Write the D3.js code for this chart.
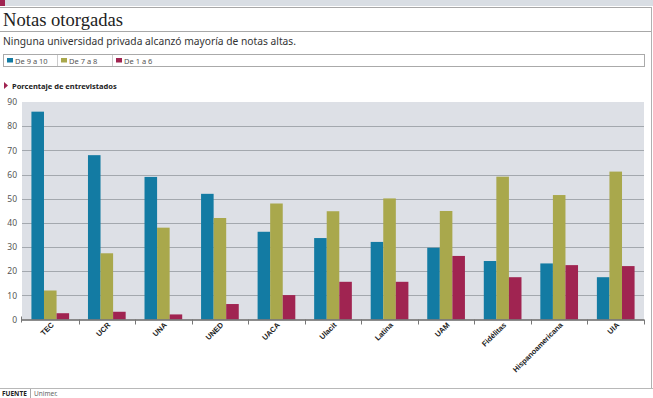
<!DOCTYPE html>
<html><head><meta charset="utf-8">
<script src="https://cdn.jsdelivr.net/npm/d3@7"></script>
<style>
body{margin:0;background:#fff;}
svg{display:block;}
</style></head>
<body>
<svg id="c" width="653" height="398"></svg>
<script>
const categories = ["TEC","UCR","UNA","UNED","UACA","Ulacit","Latina","UAM","Fidélitas","Hispanoamericana","UIA"];
const seriesNames = ["De 9 a 10","De 7 a 8","De 1 a 6"];
const serie9a10 = [86,68,59,52,36.3,33.7,32.1,29.7,24.2,23.2,17.5];
const serie7a8  = [12,27.4,38,42,48,44.8,50.1,44.9,59.1,51.5,61.2];
const serie1a6  = [2.6,3.2,2.1,6.4,10.1,15.6,15.6,26.3,17.5,22.5,22.1];
const yTicks = [0,10,20,30,40,50,60,70,80,90];
const colors = ["#137ba3","#a9a84c","#a02451"];

const svg = d3.select("#c");
const sans = "'Noto Sans','Open Sans',sans-serif";

// top strip
svg.append("rect").attr("x",0).attr("y",0).attr("width",653).attr("height",6).attr("fill","#d9dee4");
svg.append("rect").attr("x",0).attr("y",0).attr("width",5).attr("height",6).attr("fill","#a02451");
svg.append("line").attr("x1",0).attr("x2",652).attr("y1",7.5).attr("y2",7.5).attr("stroke","#a8a8a8");
svg.append("line").attr("x1",0).attr("x2",652).attr("y1",31.5).attr("y2",31.5).attr("stroke","#a8a8a8");
svg.append("line").attr("x1",651.5).attr("x2",651.5).attr("y1",7).attr("y2",388).attr("stroke","#b0b0b0");
svg.append("line").attr("x1",0).attr("x2",653).attr("y1",388.5).attr("y2",388.5).attr("stroke","#b8b8b8");

svg.append("text").attr("x",3).attr("y",26).text("Notas otorgadas")
  .attr("font-family","'Liberation Serif','DejaVu Serif',serif").attr("font-size",19.5).attr("fill","#222")
  .attr("textLength",120).attr("lengthAdjust","spacingAndGlyphs");
svg.append("text").attr("x",3).attr("y",44.5).text("Ninguna universidad privada alcanzó mayoría de notas altas.")
  .attr("font-family",sans).attr("font-size",11.5).attr("fill","#333")
  .attr("textLength",293).attr("lengthAdjust","spacingAndGlyphs");

// legend
const lg = svg.append("g");
lg.append("rect").attr("x",3.5).attr("y",54.5).attr("width",641).attr("height",12).attr("fill","#fff").attr("stroke","#aaa");
const legX = [3,57,112];
seriesNames.forEach((n,i)=>{
  if(i>0) lg.append("line").attr("x1",legX[i]+0.5).attr("x2",legX[i]+0.5).attr("y1",55).attr("y2",66).attr("stroke","#ccc");
  lg.append("rect").attr("x",legX[i]+4).attr("y",58).attr("width",6).attr("height",4.5).attr("fill",colors[i]);
  lg.append("text").attr("x",legX[i]+12).attr("y",63.5).text(n).attr("font-family",sans).attr("font-size",7.5).attr("fill","#555");
});

// subtitle label
svg.append("path").attr("d","M4,82 L8,85.5 L4,89 Z").attr("fill","#a02451");
svg.append("text").attr("x",12).attr("y",88.5).text("Porcentaje de entrevistados")
  .attr("font-family",sans).attr("font-size",7.5).attr("font-weight","bold").attr("fill","#222");

// chart
const x0 = d3.scaleBand().domain(categories).range([22,644]).paddingInner(0).paddingOuter(0);
const bw = x0.bandwidth();
const x1 = d3.scaleBand().domain(seriesNames).range([bw/6, bw*5/6]).padding(0);
const y = d3.scaleLinear().domain([0,90]).range([319.5,102]);

svg.append("rect").attr("x",22).attr("y",y(90)).attr("width",622).attr("height",y(0)-y(90)).attr("fill","#dde0e6");
svg.append("g").selectAll("line").data(yTicks.filter(t=>t>0 && t<90)).join("line")
  .attr("x1",22).attr("x2",644).attr("y1",d=>Math.round(y(d))+0.5).attr("y2",d=>Math.round(y(d))+0.5)
  .attr("stroke","#a3a8ae").attr("stroke-width",1);

const data = categories.map((c,i)=>({c, v:[serie9a10[i],serie7a8[i],serie1a6[i]]}));
const groups = svg.append("g").selectAll("g").data(data).join("g").attr("transform",d=>`translate(${x0(d.c)},0)`);
groups.selectAll("rect").data(d=>d.v.map((v,i)=>({k:seriesNames[i],v,i}))).join("rect")
  .attr("x",d=>x1(d.k)).attr("width",x1.bandwidth())
  .attr("y",d=>y(d.v)).attr("height",d=>y(0)-y(d.v)).attr("fill",d=>colors[d.i]);

// y axis labels
const yAxis = d3.axisLeft(y).tickValues(yTicks).tickSize(0).tickPadding(5);
const ya = svg.append("g").attr("transform","translate(22,0)").call(yAxis);
ya.select(".domain").remove();
ya.selectAll("text").attr("font-family",sans).attr("font-size",8.5).attr("fill","#555");
svg.append("line").attr("x1",21.5).attr("x2",21.5).attr("y1",y(0)-3).attr("y2",y(0)+3).attr("stroke","#777");

// x axis
const xAxis = d3.axisBottom(x0).tickSize(0).tickFormat(d=>d);
const xa = svg.append("g").attr("transform",`translate(0,${y(0)})`).call(xAxis);
xa.select(".domain").attr("d",`M22,0.5H644`).attr("stroke","#666").attr("stroke-width",1.5);
xa.selectAll(".tick text")
  .attr("font-family","'Liberation Sans','Arial',sans-serif").attr("font-size",7.5).attr("font-weight","bold").attr("fill","#222")
  .attr("text-anchor","end").attr("dy",null).attr("y",0)
  .attr("transform","translate(4,6) rotate(-45)");
svg.append("g").selectAll("line").data(d3.range(1,categories.length+1)).join("line")
  .attr("x1",i=>Math.round(22+bw*i)+0.5).attr("x2",i=>Math.round(22+bw*i)+0.5)
  .attr("y1",y(0)).attr("y2",y(0)+5).attr("stroke","#777");

// footer
svg.append("text").attr("x",2).attr("y",396).text("FUENTE").attr("font-family",sans).attr("font-size",6.5).attr("font-weight","bold").attr("fill","#222");
svg.append("line").attr("x1",30.5).attr("x2",30.5).attr("y1",389).attr("y2",398).attr("stroke","#aaa");
svg.append("text").attr("x",34).attr("y",396).text("Unimer.").attr("font-family",sans).attr("font-size",6.5).attr("fill","#666");
</script>
</body></html>
